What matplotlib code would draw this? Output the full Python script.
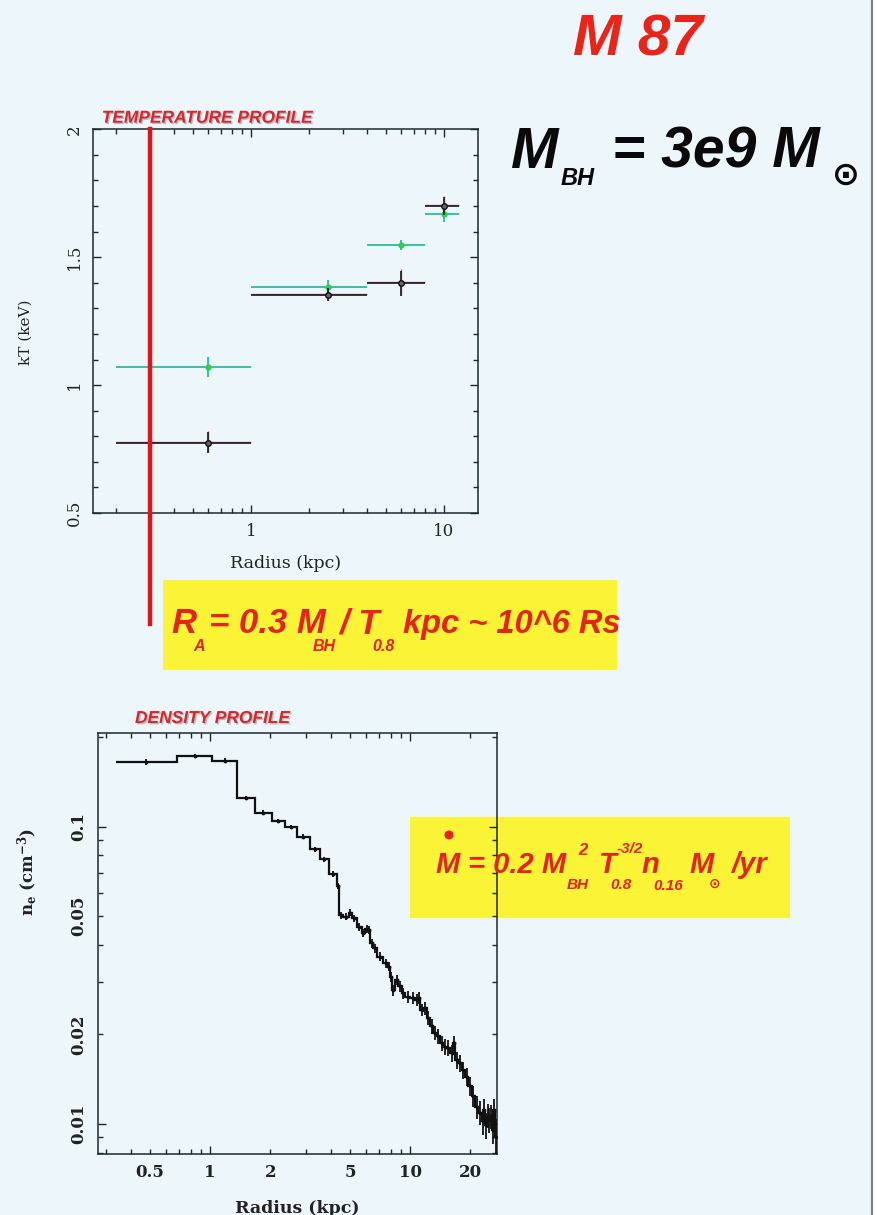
import matplotlib
matplotlib.use('Agg')
import matplotlib.pyplot as plt
import numpy as np
from matplotlib.ticker import FixedLocator, FixedFormatter, MultipleLocator, FuncFormatter
from matplotlib.patches import Rectangle, Ellipse
from matplotlib.lines import Line2D
import matplotlib.patheffects as pe

plt.rcParams['mathtext.fontset'] = 'dejavuserif'

# ---------------- data ----------------
# Temperature profile (kpc, keV)
t_r = [0.6, 2.5, 6.0, 10.0]
t_lo = [0.2, 1.0, 4.0, 8.0]
t_hi = [1.0, 4.0, 8.0, 12.0]
kT_black = [0.775, 1.353, 1.398, 1.699]
kT_black_err = [0.04, 0.025, 0.05, 0.035]
kT_red = [0.779, 1.357, 1.402, 1.703]
kT_red_err = [0.04, 0.025, 0.05, 0.035]
kT_green = [1.071, 1.384, 1.548, 1.667]
kT_green_err = [0.04, 0.025, 0.02, 0.03]
r_accretion = 0.3   # kpc, red vertical line

# Density profile (kpc, cm^-3)
n_edges = [0.339, 0.681, 1.027, 1.359, 1.679, 2.034, 2.371, 2.713, 3.162, 3.548,
           3.91, 4.30, 4.43, 4.64, 4.92, 5.11, 5.41, 5.73, 5.96, 6.19,
           6.31, 6.56, 6.81, 7.36, 7.79, 7.94, 8.10, 8.41, 8.74, 9.08,
           9.44, 10.0, 10.59, 11.01, 11.22, 11.66, 12.12, 12.59, 13.08, 13.59,
           14.13, 14.68, 15.25, 15.85, 16.47, 16.79, 17.45, 18.13, 18.84, 19.58,
           20.34, 21.13, 21.96, 22.82, 23.26, 23.71, 24.17, 24.64, 25.12, 25.60,
           26.10, 26.61, 27.0]
n_vals = [0.165, 0.173, 0.1668, 0.1246, 0.1115, 0.1045, 0.1000, 0.0926, 0.0839, 0.0777,
          0.0693, 0.0632, 0.0504, 0.0498, 0.0514, 0.0492, 0.0461, 0.0438, 0.0452, 0.0449,
          0.0405, 0.0390, 0.0365, 0.0347, 0.0338, 0.0313, 0.0282, 0.0305, 0.0290, 0.0275,
          0.0268, 0.0265, 0.0261, 0.0265, 0.0242, 0.0245, 0.0227, 0.0213, 0.0202, 0.0197,
          0.0187, 0.0182, 0.0180, 0.0173, 0.0187, 0.0164, 0.0160, 0.0152, 0.0144, 0.0134,
          0.0124, 0.0114, 0.0109, 0.0102, 0.0111, 0.00992, 0.0107, 0.0103, 0.0106, 0.00954,
          0.0111, 0.0090]
n_err = [0.004, 0.003, 0.003, 0.002, 0.0018, 0.0017, 0.0016, 0.0016, 0.0015, 0.0015,
         0.0015, 0.0014, 0.0014, 0.0014, 0.0014, 0.0014, 0.0014, 0.0013, 0.0013, 0.0013,
         0.0013, 0.0013, 0.0013, 0.0013, 0.0012, 0.0012, 0.0012, 0.0012, 0.0012, 0.0012,
         0.0012, 0.0012, 0.0012, 0.0012, 0.0012, 0.0012, 0.0012, 0.0012, 0.0011, 0.0011,
         0.0011, 0.0011, 0.0011, 0.0011, 0.0011, 0.0011, 0.0010, 0.0010, 0.0010, 0.0010,
         0.0010, 0.0010, 0.0010, 0.0010, 0.0010, 0.0010, 0.0010, 0.0010, 0.0010, 0.0010,
         0.0010, 0.0014]

top_xticks = [1, 10]
top_yticks = [0.5, 1, 1.5, 2]
bot_xlabels = [0.5, 1, 2, 5, 10, 20]
bot_ylabels = [0.01, 0.02, 0.05, 0.1]

# ---------------- figure ----------------
W, H = 878, 1215
fig = plt.figure(figsize=(W / 100, H / 100), dpi=100)
BG = '#edf6fb'
fig.patch.set_facecolor(BG)


def fx(px):
    return px / W


def fy(py):
    return 1 - py / H


RED = '#e5221c'
AXC = '#1b2a30'
SERIF = ['DejaVu Serif']
SANS = ['Liberation Sans', 'DejaVu Sans']

# right border
fig.add_artist(Rectangle((fx(872), 0), (W - 872) / W, 1, transform=fig.transFigure,
                         facecolor='white', edgecolor='none', zorder=-2))
fig.add_artist(Line2D([fx(872.5), fx(872.5)], [0, 1], transform=fig.transFigure,
                      color='#808080', lw=1.6, zorder=-1))

# yellow boxes
fig.add_artist(Rectangle((fx(163), fy(670)), (617 - 163) / W, (670 - 580) / H,
                         transform=fig.transFigure, facecolor='#fbf436', edgecolor='none', zorder=-1))
fig.add_artist(Rectangle((fx(410), fy(918)), (790 - 410) / W, (918 - 817) / H,
                         transform=fig.transFigure, facecolor='#fbf436', edgecolor='none', zorder=-1))


def style_axes(ax, maj_len=6, min_len=3.5):
    for s in ax.spines.values():
        s.set_color(AXC)
        s.set_linewidth(1.1)
    ax.tick_params(which='both', direction='in', top=True, right=True, color=AXC, width=1.0)
    ax.tick_params(which='major', length=maj_len)
    ax.tick_params(which='minor', length=min_len)


def minor_log_positions(lo, hi, decades):
    out = []
    for e in decades:
        for m in range(2, 10):
            v = m * 10.0 ** e
            if lo < v < hi:
                out.append(v)
    return out


def lab(v):
    return f'{v:g}'

# ---------------- top axes: temperature ----------------
ax1 = fig.add_axes([fx(92.7), fy(513), (477.7 - 92.7) / W, (513 - 129.3) / H])
ax1.set_facecolor('none')
ax1.set_xscale('log')
ax1.set_xlim(0.151, 15.0)
ax1.set_ylim(0.5, 2.0)

xlo_b = np.array(t_r) - np.array(t_lo)
xhi_b = np.array(t_hi) - np.array(t_r)

ax1.errorbar(t_r, kT_green, xerr=[xlo_b, xhi_b], yerr=kT_green_err, fmt='o', ms=3.5,
             color='#2bbf9c', mfc='#2dcc55', mec='#2dcc55', ecolor='#33c3a4', elinewidth=1.4, capsize=0, zorder=3)
ax1.errorbar(t_r, kT_red, xerr=[xlo_b, xhi_b], yerr=kT_red_err, fmt='none',
             ecolor='#d65a6a', elinewidth=1.0, capsize=0, zorder=3)
ax1.errorbar(t_r, kT_black, xerr=[xlo_b, xhi_b], yerr=kT_black_err, fmt='o', ms=4,
             mfc='#666666', mec='#111111', mew=1.0, ecolor='#1a1a1a', elinewidth=1.2, capsize=0, zorder=4)

style_axes(ax1)
ax1.xaxis.set_major_locator(FixedLocator(top_xticks))
ax1.xaxis.set_major_formatter(FixedFormatter([lab(v) for v in top_xticks]))
ax1.xaxis.set_minor_locator(FixedLocator(minor_log_positions(0.151, 15.0, (-1, 0, 1))))
ax1.xaxis.set_minor_formatter(FuncFormatter(lambda v, p: ''))
ax1.yaxis.set_major_locator(FixedLocator(top_yticks))
ax1.yaxis.set_major_formatter(FixedFormatter([lab(v) for v in top_yticks]))
ax1.yaxis.set_minor_locator(MultipleLocator(0.1))
ax1.tick_params(axis='both', labelsize=12, labelcolor='#222222')
ax1.tick_params(axis='x', pad=7)
ax1.tick_params(axis='y', pad=7)
for t in ax1.get_xticklabels() + ax1.get_yticklabels():
    t.set_family(SERIF)
for t in ax1.get_yticklabels():
    t.set_rotation(90)
    t.set_va('center')

ax1.set_xlabel('Radius (kpc)', fontsize=12.5, family=SERIF, color='#222222')
ax1.xaxis.set_label_coords(0.5, -0.109)
ax1.set_ylabel('kT (keV)', fontsize=11, family=SERIF, color='#222222')
ax1.yaxis.set_label_coords(-0.155, 0.47)

# red accretion radius line
ax1.axvline(r_accretion, ymin=(513 - 624) / (513 - 129.3), ymax=1.0, color='#e0141a', lw=3.2,
            clip_on=False, zorder=6)

# ---------------- bottom axes: density ----------------
ax2 = fig.add_axes([fx(98.3), fy(1154), (496.7 - 98.3) / W, (1154 - 733.3) / H])
ax2.set_facecolor('none')
ax2.set_xscale('log')
ax2.set_yscale('log')
ax2.set_xlim(0.276, 27.1)
ax2.set_ylim(0.00792, 0.206)

edges = np.array(n_edges)
centers = np.sqrt(edges[:-1] * edges[1:])
ax2.stairs(n_vals, n_edges, color='#111111', lw=1.6, baseline=None, zorder=3)
ax2.errorbar(centers, n_vals, yerr=n_err, fmt='.', ms=3.5, color='#111111',
             elinewidth=1.3, capsize=0, zorder=3)

style_axes(ax2)
ax2.xaxis.set_major_locator(FixedLocator([1, 10]))
ax2.xaxis.set_major_formatter(FixedFormatter(['1', '10']))
xmin_pos = minor_log_positions(0.276, 27.1, (-1, 0, 1))
ax2.set_xticks(xmin_pos, labels=[lab(v) if any(abs(v - b) < 1e-9 for b in bot_xlabels) else '' for v in xmin_pos],
               minor=True)
ax2.yaxis.set_major_locator(FixedLocator([0.01, 0.1]))
ax2.yaxis.set_major_formatter(FixedFormatter(['0.01', '0.1']))
ymin_pos = minor_log_positions(0.00792, 0.206, (-3, -2, -1))
ax2.set_yticks(ymin_pos, labels=[lab(v) if any(abs(v - b) < 1e-12 for b in bot_ylabels) else '' for v in ymin_pos],
               minor=True)
ax2.tick_params(axis='both', which='both', labelsize=12, labelcolor='#222222')
ax2.tick_params(axis='x', which='both', pad=7)
ax2.tick_params(axis='y', which='both', pad=8)
for t in (ax2.get_xticklabels() + ax2.get_xticklabels(minor=True)
          + ax2.get_yticklabels() + ax2.get_yticklabels(minor=True)):
    t.set_family(SERIF)
    t.set_fontweight('bold')
for t in ax2.get_yticklabels() + ax2.get_yticklabels(minor=True):
    t.set_rotation(90)
    t.set_va('center')

ax2.set_xlabel('Radius (kpc)', fontsize=12.5, family=SERIF, fontweight='bold', color='#222222')
ax2.xaxis.set_label_coords(0.5, -0.109)
ax2.set_ylabel(r'n$_{\mathbf{e}}$ (cm$^{\mathbf{-3}}$)', fontsize=12, family=SERIF, fontweight='bold', color='#222222')
ax2.yaxis.set_label_coords(-0.146, 0.67)

# ---------------- texts ----------------
shadow = [pe.withSimplePatchShadow(offset=(1, -1), shadow_rgbFace='#555555', alpha=0.35)]


def ftext(x, y, s, size, color=RED, va='baseline', family=SANS, **kw):
    return fig.text(fx(x), fy(y), s, fontsize=size, color=color, fontweight='bold',
                    fontstyle='italic', family=family, ha='left', va=va, **kw)


ftext(101.7, 122.7, 'TEMPERATURE PROFILE', 12.5, color='#d8262a', path_effects=shadow)
ftext(135, 723, 'DENSITY PROFILE', 12.5, color='#d8262a', path_effects=shadow)

ftext(573, 55, 'M 87', 42, color='#ea2418')

# M_BH = 3e9 Msun
K = '#0a0a0a'
ftext(511, 168, 'M', 41, color=K)
ftext(561, 185, 'BH', 17, color=K)
ftext(612, 168, '= 3e9 M', 41, color=K)
ftext(832, 175, '\u2299', 24, color=K, va='center', family=['DejaVu Sans'])

# R_A formula
ftext(171, 633, 'R', 25)
ftext(193, 651, 'A', 11.5)
ftext(209, 633, '= 0.3 M', 25)
ftext(313, 651, 'BH', 11.5)
ftext(339, 633, '/ T', 25)
ftext(372, 651, '0.8', 11.5)
ftext(403, 633, 'kpc ~ 10^6 Rs', 23.5)

# Mdot formula
ftext(435, 873, 'M', 21)
fig.add_artist(Ellipse((fx(449), fy(835)), 9 / W, 9 / H, transform=fig.transFigure,
                       facecolor=RED, edgecolor='none', zorder=5))
ftext(468, 873, '= 0.2 M', 21)
ftext(578, 855, '2', 12)
ftext(567, 889, 'BH', 11)
ftext(599, 873, 'T', 21)
ftext(617, 853, '-3/2', 11)
ftext(610, 889, '0.8', 11)
ftext(642, 873, 'n', 21)
ftext(653, 890, '0.16', 11)
ftext(689, 873, 'M', 21)
ftext(709, 884, '\u2299', 10, va='center', family=['DejaVu Sans'])
ftext(731, 873, '/yr', 21)

fig.savefig('out.png', dpi=100, facecolor=fig.get_facecolor())
